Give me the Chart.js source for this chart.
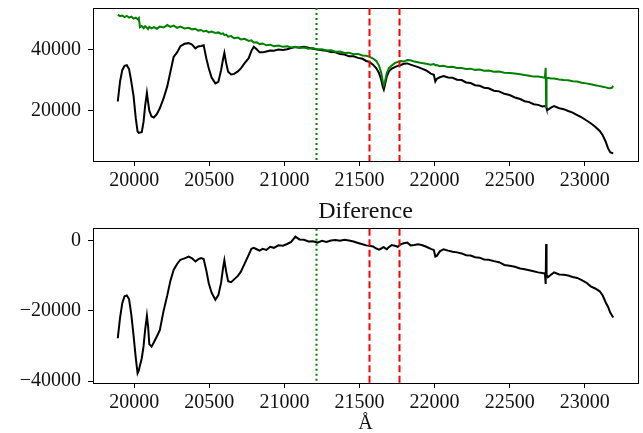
<!DOCTYPE html>
<html>
<head>
<meta charset="utf-8">
<script src="https://cdn.jsdelivr.net/npm/chart.js@4"></script>
<style>
  body { margin: 0; background: #fff; }
  #wrap { position: relative; width: 643px; height: 433px; overflow: hidden; }
  canvas { position: absolute; left: 0; }
</style>
</head>
<body>
<div id="wrap">
  <canvas id="topChart" width="643" height="200" style="top:0px"></canvas>
  <canvas id="diffChart" width="643" height="241" style="top:195px"></canvas>
</div>
<script>
// wavelength in Angstrom
const wavelength = [
  19890,19905,19920,19935,19950,19965,19980,19995,20010,20022,
  20030,20038,20050,20062,20072,20084,20092,20100,20115,20130,
  20150,20170,20195,20220,20240,20262,20285,20307,20335,20362,
  20385,20407,20425,20445,20462,20480,20496,20515,20540,20560,
  20578,20592,20600,20612,20625,20645,20665,20690,20710,20735,
  20762,20780,20796,20815,20835,20855,20880,20905,20930,20960,
  20990,21018,21045,21073,21100,21130,21160,21190,21220,21250,
  21280,21310,21340,21370,21400,21430,21460,21490,21520,21545,
  21565,21590,21612,21630,21645,21655,21662,21670,21682,21696,
  21715,21735,21755,21775,21795,21818,21840,21865,21890,21915,
  21945,21975,21995,22005,22015,22035,22060,22090,22120,22150,
  22180,22210,22240,22270,22300,22330,22360,22395,22430,22465,
  22500,22535,22570,22600,22630,22660,22690,22718,22735,22740,
  22743,22746,22755,22775,22796,22830,22860,22890,22920,22950,
  22980,23010,23040,23070,23100,23120,23140,23155,23170,23182,
  23190
];

// black curve (top panel)
const fluxObserved = [
  23000,29500,33200,34600,34800,33600,29500,24800,17500,13200,
  12800,12900,13000,16500,21500,25800,22800,20000,18100,17800,
  18900,20800,24000,28000,32500,37500,39000,41000,41800,42000,
  41500,40300,40900,41100,41300,37000,33800,30800,28900,29400,
  33200,37000,38800,35500,32700,31800,32000,32800,33800,35500,
  37100,39500,40800,40000,39000,39000,39300,39600,39500,39900,
  39800,40000,40400,40700,40600,40800,40500,40200,39900,39700,
  39500,39100,39000,38500,38300,37700,37700,37200,36900,36200,
  35900,35000,33800,32300,30000,27800,26900,28500,31200,32800,
  33700,34200,34600,34900,35300,35400,35000,34600,34200,33700,
  33100,32100,31700,29500,30400,30900,31300,30800,30700,30100,
  30000,29200,29000,28300,28100,27500,27300,26500,26300,25500,
  25100,24300,23800,23100,22800,22100,21900,21400,21500,21300,
  21200,20700,20300,21000,21500,20800,20500,19900,19400,18600,
  17800,16900,15900,14800,13400,12000,9900,7800,6500,6200,
  6100
];

// green curve (top panel)
const fluxModel = [
  51300,50800,51000,50500,50900,50300,50600,50000,50300,49800,
  50200,47200,47600,46900,47500,47000,46600,47300,46800,47200,
  46700,47400,47100,47900,47300,47700,47000,47400,46800,47000,
  46500,46700,46100,46300,45800,46000,45500,45800,45300,45500,
  45000,45200,44600,44800,44100,44300,43600,43800,43200,43400,
  42700,42900,42200,42300,41700,41900,41300,41500,41000,41200,
  40800,41000,40600,40800,40400,40600,40200,40400,39900,40000,
  39600,39700,39200,39300,38800,38900,38400,38500,38000,37900,
  37600,37000,36200,34700,32300,29600,28300,29600,32300,33900,
  34700,35500,35900,36200,36000,36500,36400,36000,35800,35500,
  35300,35000,35200,34800,34900,34500,34600,34200,34300,33900,
  33900,33600,33700,33300,33400,33000,33100,32700,32800,32400,
  32300,32100,31900,31600,31400,31100,31100,30900,30700,34000,
  21300,30600,30700,30500,30500,30200,30000,29900,29600,29500,
  29100,28900,28600,28300,28000,27800,27600,27400,27300,27500,
  28100
];

// bottom panel
const fluxDiff = [
  -27800,-22000,-17800,-15800,-15600,-16600,-21000,-27000,-33500,-37800,
  -37000,-35500,-33500,-30000,-25500,-21400,-24500,-29500,-30200,-29000,
  -27300,-25500,-20000,-15500,-11500,-8300,-6600,-5400,-5000,-4500,
  -5000,-5900,-5300,-4900,-5200,-8500,-12100,-14800,-16800,-15500,
  -12000,-7500,-5500,-8800,-11500,-11800,-11000,-10000,-8800,-6500,
  -4000,-2300,-2000,-2400,-2800,-2300,-2600,-1700,-2000,-1300,
  -1400,-900,-300,1200,400,300,-200,-100,-500,0,
  -300,100,200,0,300,100,-200,-600,-1000,-1300,
  -1400,-1600,-2200,-2500,-2200,-1900,-1800,-2100,-2400,-1800,
  -1200,-1400,-1700,-1000,-700,-500,-1300,-1200,-1000,-1200,
  -1700,-2300,-2600,-4500,-4300,-3000,-2400,-2800,-3100,-3300,
  -3600,-4100,-4200,-4700,-4800,-5300,-5400,-5800,-6100,-6900,
  -7100,-7400,-7900,-8100,-8400,-8700,-9000,-9200,-9300,-12300,
  -900,-9700,-10400,-9700,-9000,-9600,-9700,-9900,-10300,-10600,
  -11200,-11900,-13000,-13600,-14400,-15600,-17600,-18800,-20500,-21300,
  -21900
];

const xTicks = [20000, 20500, 21000, 21500, 22000, 22500, 23000];
const yTicksTop = [20000, 40000];
const yTicksDiff = [-40000, -20000, 0];
const greenMarks = [21210];
const redMarks = [21560, 21760];

const FONT = "'Liberation Serif', 'DejaVu Serif', serif";
const TXT = '#111';

const pts = ys => wavelength.map((x, i) => ({ x: x, y: ys[i] }));

// vertical marker lines
const overlay = {
  id: 'overlay',
  afterDatasetsDraw(chart) {
    const { ctx, chartArea: a, scales } = chart;
    const draw = (vals, color, dash) => {
      vals.forEach(v => {
        const x = Math.round(scales.x.getPixelForValue(v)) + 0.5;
        ctx.save();
        ctx.beginPath();
        ctx.setLineDash(dash);
        ctx.strokeStyle = color;
        ctx.lineWidth = 2;
        ctx.moveTo(x, a.top);
        ctx.lineTo(x, a.bottom);
        ctx.stroke();
        ctx.restore();
      });
    };
    draw(greenMarks, '#008000', [2, 3]);
    draw(redMarks, '#ff0000', [7, 3.5]);
  }
};

function xAxis(height, withTitle) {
  return {
    type: 'linear',
    min: 19725,
    max: 23355,
    afterBuildTicks: s => { s.ticks = xTicks.map(v => ({ value: v })); },
    afterFit: s => { s.height = height; s.paddingLeft = 0; s.paddingRight = 0; },
    grid: { drawOnChartArea: false, drawTicks: true, tickLength: 5, color: '#000' },
    border: { display: true, color: '#000', width: 1 },
    ticks: {
      color: TXT, font: { family: FONT, size: 20 }, padding: 3,
      maxRotation: 0, autoSkip: false, callback: v => String(v)
    },
    title: {
      display: withTitle, text: 'Å', color: TXT,
      font: { family: FONT, size: 20 }, padding: { top: 0, bottom: 0 }
    }
  };
}

function yAxis(min, max, ticks) {
  return {
    type: 'linear',
    min: min,
    max: max,
    afterBuildTicks: s => { s.ticks = ticks.map(v => ({ value: v })); },
    afterFit: s => { s.width = 93; s.paddingTop = 0; s.paddingBottom = 0; },
    grid: { drawOnChartArea: false, drawTicks: true, tickLength: 5, color: '#000' },
    border: { display: true, color: '#000', width: 1 },
    ticks: {
      color: TXT, font: { family: FONT, size: 20 }, padding: 7,
      callback: v => (v < 0 ? '\u2212' + Math.abs(v) : String(v))
    }
  };
}

// empty axes on top and right, only to close the box
function edgeAxis(position, axis) {
  return {
    type: 'linear',
    position: position,
    axis: axis,
    min: 0,
    max: 1,
    afterFit: s => { if (axis === 'x') s.height = 0; else s.width = 0; },
    grid: { display: true, drawOnChartArea: false, drawTicks: false },
    border: { display: true, color: '#000', width: 1 },
    ticks: { display: false }
  };
}

const lineStyle = { showLine: true, pointRadius: 0, borderWidth: 2, tension: 0, fill: false };

new Chart(document.getElementById('topChart'), {
  type: 'scatter',
  data: {
    datasets: [
      Object.assign({ data: pts(fluxModel), borderColor: '#008000', order: 0 }, lineStyle),
      Object.assign({ data: pts(fluxObserved), borderColor: '#000000', order: 1 }, lineStyle)
    ]
  },
  options: {
    responsive: false,
    animation: false,
    devicePixelRatio: 1,
    layout: { padding: { top: 8, right: 5, left: 0, bottom: 0 } },
    plugins: { legend: { display: false }, tooltip: { enabled: false } },
    scales: {
      x: xAxis(39, false),
      y: yAxis(3620, 53450, yTicksTop),
      xTop: edgeAxis('top', 'x'),
      yRight: edgeAxis('right', 'y')
    }
  },
  plugins: [overlay]
});

new Chart(document.getElementById('diffChart'), {
  type: 'scatter',
  data: {
    datasets: [
      Object.assign({ data: pts(fluxDiff), borderColor: '#000000' }, lineStyle)
    ]
  },
  options: {
    responsive: false,
    animation: false,
    devicePixelRatio: 1,
    layout: { padding: { top: 0, right: 5, left: 0, bottom: 0 } },
    plugins: {
      legend: { display: false },
      tooltip: { enabled: false },
      title: {
        display: true, fullSize: false, text: 'Diference', color: TXT,
        font: { family: FONT, size: 24, weight: 'normal' },
        padding: { top: 2, bottom: 3 }
      }
    },
    scales: {
      x: xAxis(53, true),
      y: yAxis(-40570, 3430, yTicksDiff),
      xTop: edgeAxis('top', 'x'),
      yRight: edgeAxis('right', 'y')
    }
  },
  plugins: [overlay]
});
</script>
</body>
</html>
